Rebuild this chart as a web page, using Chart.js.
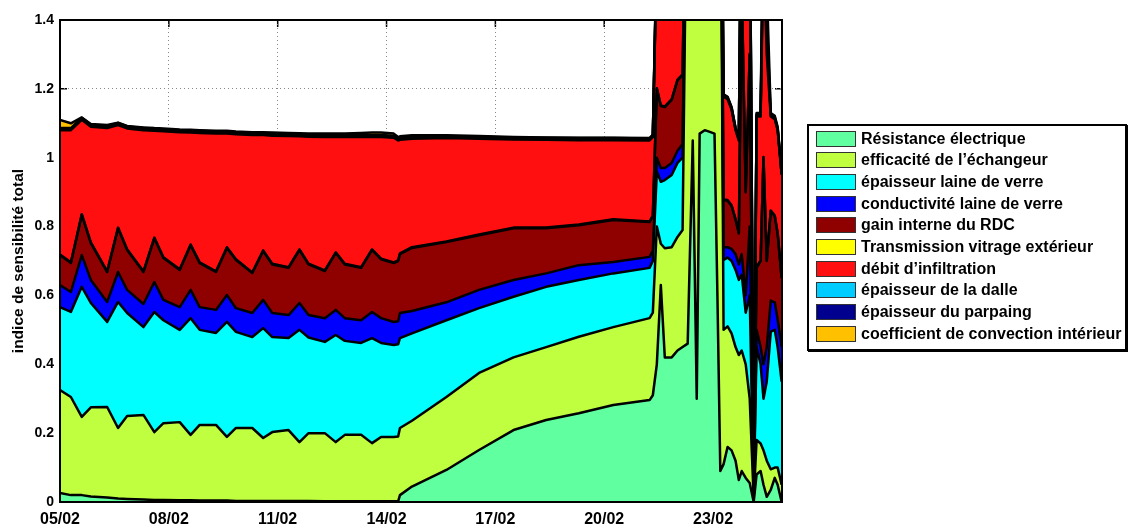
<!DOCTYPE html>
<html lang="fr">
<head>
    <meta charset="UTF-8">
    <title>Indice de sensibilité total</title>
    <script src="https://cdn.jsdelivr.net/npm/chart.js"></script>
    <style>
        body { margin: 0; background: #fff; }
        #wrap { position: relative; width: 1131px; height: 527px; }
        #legend {
            position: absolute; left: 807px; top: 124px;
            width: 316px; height: 221px;
            border: 2px solid #000; box-shadow: 1px 1px 0 #000;
            background: #fff; padding-top: 2px; box-sizing: content-box;
            font: bold 16px "Liberation Sans", Arial, sans-serif; color: #000;
            white-space: nowrap;
        }
        .item { display: flex; align-items: center; height: 21.67px; }
        .swatch { width: 38px; height: 14px; border: 1px solid #333; margin-left: 7px; margin-right: 5px; flex: none; }
    </style>
</head>
<body>
<div id="wrap">
    <canvas id="chart" width="1131" height="527"></canvas>
    <div id="legend"></div>
</div>
<script>
// time in days since 05/02
const days = [0, 0.3, 0.6, 0.85, 1.3, 1.6, 1.85, 2.3, 2.6, 2.85, 3.3, 3.6, 3.85, 4.3, 4.6, 4.85,
    5.3, 5.6, 5.85, 6.3, 6.6, 6.85, 7.3, 7.6, 7.85, 8.3, 8.6, 8.85, 9.2, 9.32, 9.37, 9.7,
    10.65, 11.55, 12.5, 13.4, 14.3, 15.25, 16.25,
    16.34, 16.45, 16.56, 16.67, 16.86, 17.02, 17.16, 17.30, 17.44, 17.55, 17.63, 17.77, 17.91, 18.04,
    18.12, 18.20, 18.29, 18.40, 18.51, 18.62, 18.71, 18.79, 18.90, 19.01, 19.12, 19.20, 19.31, 19.39,
    19.48, 19.59, 19.70, 19.78, 19.89];

const tickDays = [0, 3, 6, 9, 12, 15, 18];
const tickLabels = ['05/02', '08/02', '11/02', '14/02', '17/02', '20/02', '23/02'];

const resistance = [.026, .02, .02, .016, .013, .01, .009, .007, .006, .006, .005, .005, .004, .004, .004, .003,
    .003, .003, .003, .003, .003, .003, .002, .002, .002, .002, .002, .002, .002, .002, .02, .045,
    .093, .151, .209, .238, .258, .282, .296,
    .31, .40, .63, .42, .42, .44, .45, .46, 1.05, .30, 1.07, 1.08, 1.075, 1.07,
    .60, .09, .11, .16, .15, .12, .064, .09, .07, .055, 0, .08, .09, .05,
    .015, .035, .07, .05, 0];
const efficacite = [.299, .285, .227, .259, .263, .205, .241, .246, .197, .223, .227, .19, .22, .22, .185, .212,
    .212, .183, .2, .206, .171, .197, .198, .172, .193, .193, .169, .187, .187, .188, .195, .191,
    .212, .224, .211, .212, .222, .226, .238,
    .24, .40, .12, .317, .32, .33, .34, 1.6, .95, 1.7, .93, .92, .93, .93,
    1.4, 1.9, .39, .35, .34, .33, .363, .35, .33, .245, .01, .10, .08, .10,
    .105, .06, .03, .05, .05];
const epaisseurLaine = [.241, .247, .378, .303, .247, .366, .299, .255, .349, .299, .268, .339, .276, .267, .334, .279,
    .264, .319, .276, .267, .326, .278, .265, .311, .273, .267, .305, .273, .267, .268, .261, .254,
    .223, .188, .176, .175, .165, .156, .146,
    .15, .16, .18, .198, .21, .215, .21, .05, .05, .05, .05, .05, .05, .05,
    .05, .05, .203, .20, .21, .224, .218, .22, .15, .30, .01, .27, .23, .15,
    .23, .40, .40, .35, .30];
const conductivite = [.064, .058, .092, .067, .058, .087, .067, .067, .087, .059, .066, .082, .066, .067, .078, .069,
    .07, .082, .07, .067, .078, .065, .069, .073, .066, .066, .076, .072, .067, .067, .073, .065,
    .052, .053, .049, .039, .043, .033, .032,
    .03, .04, .04, .035, .035, .035, .04, .02, .02, .02, .02, .02, .02, .02,
    .02, .02, .037, .03, .035, .046, .045, .06, .05, .20, .01, .05, .05, .10,
    .10, .09, .08, .08, .10];
const gainInterne = [.087, .084, .117, .107, .087, .127, .116, .093, .127, .122, .108, .13, .128, .11, .137, .14,
    .116, .142, .141, .137, .154, .147, .137, .165, .156, .152, .18, .171, .171, .175, .171, .183,
    .175, .159, .15, .131, .116, .122, .101,
    .10, .20, .18, .177, .183, .205, .20, .05, .05, .05, .05, .05, .05, .05,
    .05, .05, .137, .135, .125, .10, .09, .78, .30, .50, .01, .18, .25, .60,
    .25, .26, .25, .25, .20];
const transmission = [.002, .002, .002, .002, .002, .002, .002, .002, .002, .002, .002, .002, .002, .002, .002, .002,
    .002, .002, .002, .002, .002, .002, .002, .002, .002, .002, .002, .002, .002, .002, .002, .002,
    .002, .002, .002, .002, .002, .002, .002,
    .002, .002, .002, .002, .002, .002, .002, .002, .002, .002, .002, .002, .002, .002,
    .002, .002, .002, .002, .002, .002, .002, .002, .002, .002, 0, .002, .002, .002,
    .002, .002, .002, .002, .002];
const infiltration = [.361, .384, .274, .336, .416, .298, .351, .410, .310, .366, .398, .325, .376, .4, .33, .363,
    .399, .335, .372, .381, .328, .369, .387, .335, .368, .378, .326, .353, .362, .348, .330, .315,
    .3, .278, .256, .255, .245, .230, .235,
    .228, .398, .548, .551, .58, .55, .55, .1, .1, .1, .1, .1, .1, .1,
    .1, .1, .298, .293, .278, .258, .268, .398, .698, .498, .02, .438, .418, .598,
    .598, .273, .28, .298, .298];
const epaisseurDalle = [.003, .003, .003, .003, .003, .003, .003, .003, .003, .003, .003, .003, .003, .003, .003, .003,
    .003, .003, .003, .003, .003, .003, .003, .003, .003, .003, .003, .003, .003, .003, .003, .003,
    .003, .003, .003, .003, .003, .003, .003,
    .003, .01, .01, .01, .01, .01, .01, .01, .01, .01, .01, .01, .01, .01,
    .01, .01, .003, .003, .003, .003, .003, .01, .01, .01, 0, .003, .003, .05,
    .05, .003, .003, .003, .003];
const epaisseurParpaing = [.003, .003, .003, .003, .003, .003, .003, .003, .003, .003, .003, .003, .003, .003, .003, .003,
    .003, .003, .003, .003, .003, .003, .003, .003, .003, .003, .003, .003, .003, .003, .003, .003,
    .003, .003, .003, .003, .003, .003, .003,
    .003, .01, .01, .01, .01, .01, .01, .01, .01, .01, .01, .01, .01, .01,
    .01, .01, .003, .003, .003, .003, .003, .01, .01, .01, 0, .003, .003, .05,
    .05, .003, .003, .003, .003];
const convection = [.024, .014, .001, .002, .003, .001, .001, .002, .002, .002, .002, .002, .002, .002, .002, .002,
    .002, .002, .003, .003, .003, .003, .004, .004, .004, .006, .007, .007, .006, .004, .004, .004,
    .002, .002, .001, .001, .001, .001, .001,
    .001, .01, .01, .01, .01, .01, .01, .01, .01, .01, .01, .01, .01, .01,
    .01, .01, .001, .001, .001, .001, .001, .01, .01, .01, 0, .004, .004, .10,
    .10, .004, .004, .004, .004];

const seriesLabels = ['Résistance électrique', 'efficacité de l’échangeur', 'épaisseur laine de verre',
    'conductivité laine de verre', 'gain interne du RDC', 'Transmission vitrage extérieur',
    'débit d’infiltration', 'épaisseur de la dalle', 'épaisseur du parpaing',
    'coefficient de convection intérieur'];
const seriesValues = [resistance, efficacite, epaisseurLaine, conductivite, gainInterne,
    transmission, infiltration, epaisseurDalle, epaisseurParpaing, convection];
const colors = ['#60FFA0', '#BFFF40', '#00FFFF', '#0000FF', '#8F0000',
    '#FFFF00', '#FF0F0F', '#00CCFF', '#00008F', '#FFC000'];

Chart.defaults.font.family = '"Liberation Sans", Arial, sans-serif';
Chart.defaults.color = '#000';

const datasets = seriesValues.map((vals, i) => ({
    label: seriesLabels[i],
    data: vals.map((v, j) => ({ x: days[j], y: v })),
    backgroundColor: colors[i],
    borderColor: '#000',
    borderWidth: 2.5,
    borderJoinStyle: 'round',
    pointRadius: 0,
    tension: 0,
    fill: i === 0 ? 'origin' : '-1'
}));

// inward tick marks, under the areas (like matlab)
const tickMarks = {
    id: 'tickMarks',
    beforeDraw(chart) {
        const { ctx, chartArea: a, scales: { x, y } } = chart;
        ctx.save();
        ctx.strokeStyle = '#000';
        ctx.lineWidth = 1.5;
        ctx.beginPath();
        tickDays.forEach(d => {
            const px = x.getPixelForValue(d);
            ctx.moveTo(px, a.bottom); ctx.lineTo(px, a.bottom - 7);
            ctx.moveTo(px, a.top); ctx.lineTo(px, a.top + 7);
        });
        y.ticks.forEach(t => {
            const py = y.getPixelForValue(t.value);
            ctx.moveTo(a.left, py); ctx.lineTo(a.left + 7, py);
            ctx.moveTo(a.right, py); ctx.lineTo(a.right - 7, py);
        });
        ctx.stroke();
        ctx.restore();
    }
};

const frame = {
    id: 'frame',
    afterDatasetsDraw(chart) {
        const { ctx, chartArea: a } = chart;
        ctx.save();
        ctx.strokeStyle = '#000';
        ctx.lineWidth = 2;
        ctx.strokeRect(a.left, a.top, a.right - a.left, a.bottom - a.top);
        ctx.restore();
    }
};

new Chart(document.getElementById('chart').getContext('2d'), {
    type: 'line',
    data: { datasets: datasets },
    options: {
        responsive: false,
        animation: false,
        layout: { padding: { left: 0, top: 20, right: 349, bottom: 0 } },
        plugins: {
            legend: { display: false },
            tooltip: { enabled: false },
            filler: { drawTime: 'beforeDatasetsDraw' }
        },
        scales: {
            x: {
                type: 'linear',
                min: 0,
                max: 19.9,
                afterBuildTicks: s => { s.ticks = tickDays.map(v => ({ value: v })); },
                afterFit: s => { s.height = 25; },
                ticks: {
                    autoSkip: false,
                    maxRotation: 0,
                    padding: 8,
                    font: { size: 16, weight: 'bold' },
                    callback: v => tickLabels[tickDays.indexOf(v)]
                },
                grid: { color: '#888', lineWidth: 1, drawTicks: false },
                border: { display: false, dash: [1, 3] }
            },
            y: {
                stacked: true,
                min: 0,
                max: 1.4,
                afterFit: s => { s.width = 60; },
                ticks: {
                    stepSize: 0.2,
                    padding: 6,
                    font: { size: 14, weight: 'bold' },
                    callback: v => String(Math.round(v * 10) / 10)
                },
                title: {
                    display: true,
                    text: 'indice de sensibilité total',
                    font: { size: 15.5, weight: 'bold' },
                    padding: { top: 9, bottom: 0 }
                },
                grid: { color: '#888', lineWidth: 1, drawTicks: false },
                border: { display: false, dash: [1, 3] }
            }
        }
    },
    plugins: [tickMarks, frame]
});

const legend = document.getElementById('legend');
seriesLabels.forEach((name, i) => {
    const row = document.createElement('div');
    row.className = 'item';
    const sw = document.createElement('span');
    sw.className = 'swatch';
    sw.style.background = colors[i];
    const txt = document.createElement('span');
    txt.textContent = name;
    row.appendChild(sw);
    row.appendChild(txt);
    legend.appendChild(row);
});
</script>
</body>
</html>
